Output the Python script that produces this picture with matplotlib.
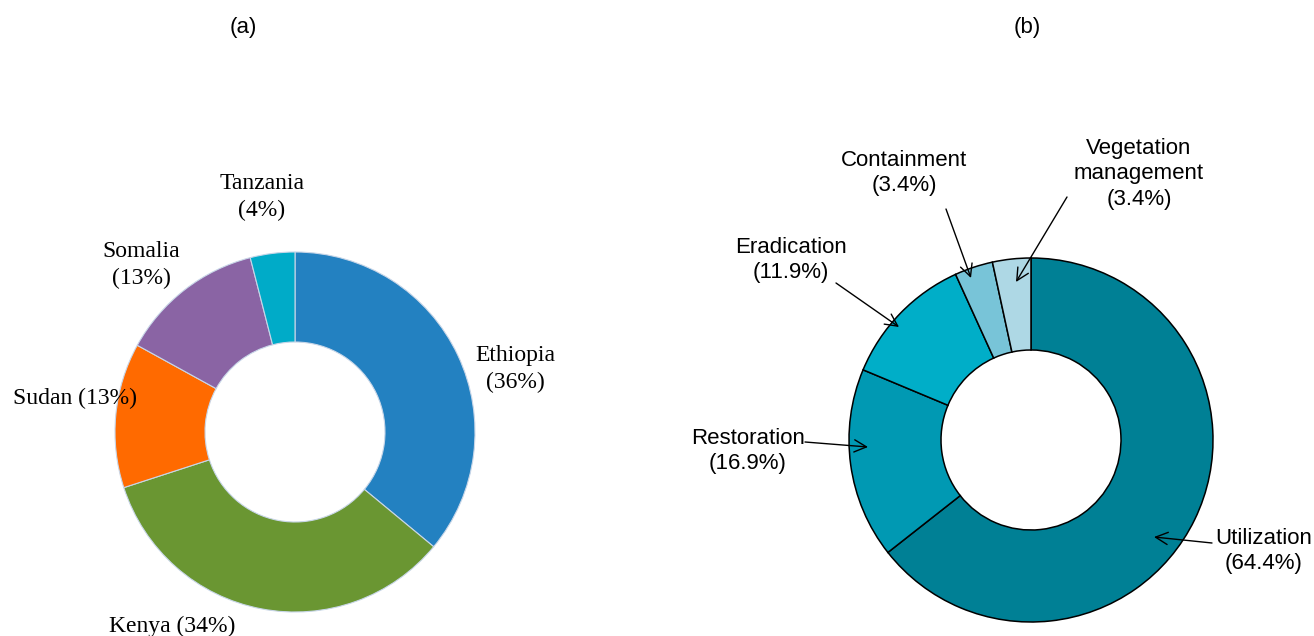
import matplotlib
matplotlib.use("Agg")
import matplotlib.pyplot as plt

# ---- data ----
countries = ["Ethiopia", "Kenya", "Sudan", "Somalia", "Tanzania"]
country_share = [36, 34, 13, 13, 4]
country_colors = ["#2381C1", "#6A9632", "#FF6A00", "#8A64A4", "#00ABC8"]

methods = ["Utilization", "Restoration", "Eradication", "Containment", "Vegetation\nmanagement"]
method_share = [64.4, 16.9, 11.9, 3.4, 3.4]
method_colors = ["#008095", "#0099B3", "#00AEC8", "#78C4D8", "#AED8E5"]

W, H = 1314, 636
fig = plt.figure(figsize=(W / 100, H / 100), dpi=100)
ax = fig.add_axes([0, 0, 1, 1])

def Y(y):  # convert top-down pixel row to data y
    return H - y

# ---- (a) donut ----
ax.pie(country_share, colors=country_colors, startangle=90, counterclock=False,
       center=(295, Y(432)), radius=180,
       wedgeprops=dict(width=90, edgecolor="#C8D6E8", linewidth=0.8))

# ---- (b) donut ----
ax.pie(method_share, colors=method_colors, startangle=90, counterclock=False,
       center=(1031, Y(440)), radius=182,
       wedgeprops=dict(width=92, edgecolor="black", linewidth=1.1))

ax.set_xlim(0, W)
ax.set_ylim(0, H)
ax.set_aspect("equal")
ax.axis("off")

# titles
ax.text(243, Y(28), "(a)", ha="center", va="center", fontsize=16, family="Liberation Sans")
ax.text(1027, Y(28), "(b)", ha="center", va="center", fontsize=16, family="Liberation Sans")

# labels for (a)
serif = dict(ha="center", va="center", fontsize=17, family="Liberation Serif",
             multialignment="center", linespacing=1.32)
a_label_pos = [(515, 369), (172, 626), (75, 398), (141, 265), (262, 197)]
a_label_fmt = ["{}\n({}%)", "{} ({}%)", "{} ({}%)", "{}\n({}%)", "{}\n({}%)"]
for name, v, (x, y), fmt in zip(countries, country_share, a_label_pos, a_label_fmt):
    ax.text(x, Y(y), fmt.format(name, v), **serif)

# labels for (b)
sans = dict(ha="center", va="center", fontsize=16, family="Liberation Sans",
            multialignment="center", linespacing=1.3)
b_label_pos = [(1264, 551), (748, 451), (791, 260), (904, 173), (1139, 174)]
b_tails = [(1212, 543), (805, 442), (836, 283), (946, 209), (1067, 197)]
b_heads = [(1154, 537), (868, 447), (899, 327), (971, 278), (1016, 282)]
for name, v, (x, y), t, h in zip(methods, method_share, b_label_pos, b_tails, b_heads):
    ax.text(x, Y(y), "{}\n({}%)".format(name, v), **sans)
    ax.annotate("", xy=(h[0], Y(h[1])), xytext=(t[0], Y(t[1])),
                arrowprops=dict(arrowstyle="->", color="black", lw=1.0,
                                mutation_scale=22, shrinkA=0, shrinkB=0))

fig.savefig("out.png", dpi=100)
